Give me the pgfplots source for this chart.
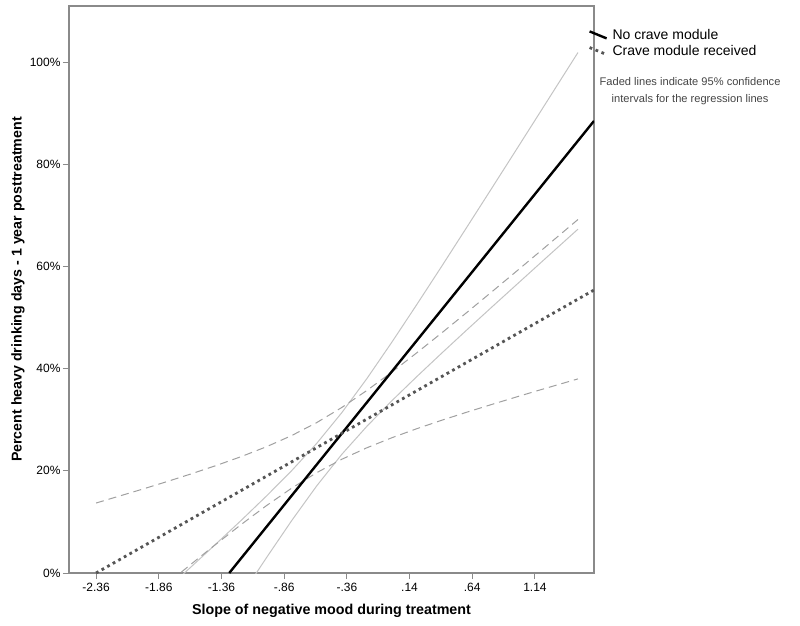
\documentclass[border=0pt]{standalone}
\usepackage{pgfplots}
\pgfplotsset{compat=1.18}
\usepackage{fontspec}
\setmainfont{Liberation Sans}
\definecolor{axgray}{HTML}{8A8A8A}
\definecolor{cigray}{HTML}{C4C4C4}
\definecolor{dashgray}{HTML}{A0A0A0}
\definecolor{dotgray}{HTML}{555555}
\definecolor{notegray}{HTML}{444444}
\begin{document}
\begin{tikzpicture}
\path (-69pt,-52pt) rectangle (731pt,573pt);
\begin{axis}[
  scale only axis,
  width=525pt, height=567pt,
  xmin=-2.576, xmax=1.611, ymin=0, ymax=111,
  axis line style={axgray, line width=1.2pt},
  every tick/.style={axgray, line width=1pt},
  tick align=outside, major tick length=6pt,
  xtick={-2.36,-1.86,-1.36,-0.86,-0.36,0.14,0.64,1.14},
  xticklabels={-2.36,-1.86,-1.36,-.86,-.36,.14,.64,1.14},
  ytick={0,20,40,60,80,100},
  yticklabels={0\%,20\%,40\%,60\%,80\%,100\%},
  xtick pos=bottom, ytick pos=left,
  ticklabel style={font=\fontsize{12}{14}\selectfont},
  xticklabel style={yshift=-1pt},
  yticklabel style={xshift=1pt},
  xlabel={Slope of negative mood during treatment},
  ylabel={Percent heavy drinking days - 1 year posttreatment},
  xlabel style={font=\bfseries\fontsize{14.3}{16}\selectfont, at={(axis description cs:0.5,-0.067)}, anchor=center},
  ylabel style={font=\bfseries\fontsize{14.2}{16}\selectfont, at={(axis description cs:-0.0971,0.5)}, anchor=center},
  legend style={at={(1,0.972)}, anchor=north west, xshift=-6pt, yshift=-6pt, draw=none, fill=none,
    font=\fontsize{14}{16}\selectfont, row sep=1.5pt, inner sep=0pt, nodes={inner sep=1.5pt}},
  legend cell align=left,
  legend image code/.code={\draw[#1] (0pt,4pt) -- (17pt,-3pt);},
  clip mode=individual,
]
% CI for no crave module (light gray solid)
\addplot[cigray, line width=1pt, forget plot] coordinates {
(-1.8,-3.23) (-1.7,-0.99) (-1.6,1.25) (-1.4,5.78) (-1.2,10.37) (-1.0,15.10) (-0.8,20.04)
(-0.6,25.39) (-0.4,31.40) (-0.2,38.07) (0.0,45.23) (0.2,52.64) (0.4,60.18) (0.6,67.82)
(0.8,75.49) (1.0,83.20) (1.2,90.93) (1.483,101.89)};
\addplot[cigray, line width=1pt, forget plot] coordinates {
(-1.4,-11.98) (-1.2,-4.41) (-1.1,-0.67) (-1.0,3.04) (-0.8,10.26) (-0.6,17.07) (-0.4,23.24)
(-0.2,28.73) (0.0,33.75) (0.2,38.50) (0.4,43.12) (0.6,47.66) (0.8,52.15) (1.0,56.60)
(1.2,61.05) (1.483,67.31)};
% CI for crave module (dashed)
\addplot[dashgray, line width=1pt, dash pattern=on 8pt off 5pt, forget plot] coordinates {
(-2.36,13.70) (-2.0,16.34) (-1.8,17.85) (-1.6,19.42) (-1.4,21.06) (-1.2,22.81) (-1.0,24.73)
(-0.8,26.91) (-0.6,29.45) (-0.4,32.41) (-0.2,35.74) (0.0,39.35) (0.2,43.15) (0.4,47.07)
(0.6,51.07) (0.8,55.13) (1.0,59.22) (1.2,63.34) (1.483,69.20)};
\addplot[dashgray, line width=1pt, dash pattern=on 8pt off 5pt, forget plot] coordinates {
(-2.0,-6.30) (-1.8,-2.23) (-1.6,1.78) (-1.4,5.72) (-1.2,9.55) (-1.0,13.21) (-0.8,16.61)
(-0.6,19.65) (-0.4,22.27) (-0.2,24.52) (0.0,26.49) (0.2,28.27) (0.4,29.93) (0.6,31.51)
(0.8,33.03) (1.0,34.52) (1.2,35.98) (1.483,38.00)};
% Regression lines
\addplot[black, line width=2.4pt] coordinates {(-1.298,0) (1.611,88.5)};
\addlegendentry{\hspace{3pt}No crave module}
\addplot[dotgray, line width=2.8pt, dash pattern=on 2.8pt off 3.6pt] coordinates {(-2.36,0) (1.611,55.4)};
\addlegendentry{\hspace{3pt}Crave module received}
\node[align=center, font=\fontsize{11.1}{16.5}\selectfont, text=notegray] at (rel axis cs:1.183,0.850)
  {Faded lines indicate 95\% confidence\\intervals for the regression lines};
\end{axis}
\end{tikzpicture}
\end{document}
